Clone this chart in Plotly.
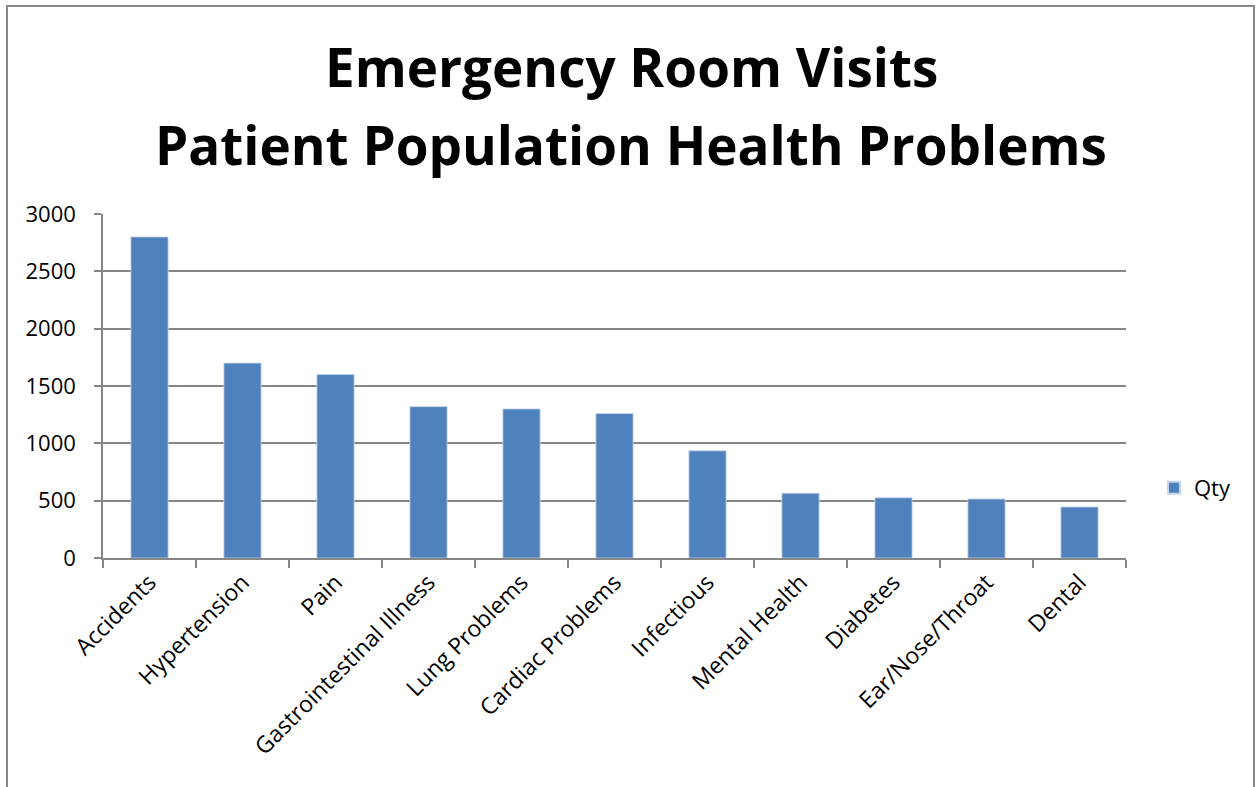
import plotly.graph_objects as go

# Emergency room visits by health problem
categories = [
    "Accidents", "Hypertension", "Pain", "Gastrointestinal Illness",
    "Lung Problems", "Cardiac Problems", "Infectious", "Mental Health",
    "Diabetes", "Ear/Nose/Throat", "Dental",
]
qty = [2800, 1700, 1600, 1320, 1300, 1260, 935, 565, 525, 515, 445]
y_ticks = [0, 500, 1000, 1500, 2000, 2500, 3000]

W, H = 1256, 787
L, R, T, B = 103, 130, 214, 229
PW, PH = W - L - R, H - T - B


def px_x(x):
    return (x - L) / PW


def px_y(y):
    return (H - B - y) / PH


FONT = "Open Sans"
GRID = "#868686"

fig = go.Figure()
fig.add_trace(go.Bar(
    x=categories, y=qty, name="Qty",
    marker=dict(color="#4F81BD", line=dict(color="#C6D6EA", width=0.8)),
))

fig.update_layout(
    width=W, height=H,
    margin=dict(l=L, r=R, t=T, b=B, pad=0),
    paper_bgcolor="white", plot_bgcolor="white",
    bargap=0.6,
    showlegend=True,
    legend=dict(x=px_x(1154), y=px_y(488), xanchor="left", yanchor="middle",
                font=dict(family=FONT, size=22, color="black"),
                itemsizing="constant", bgcolor="rgba(0,0,0,0)"),
    font=dict(family=FONT, color="black"),
)

fig.update_xaxes(
    type="category", tickangle=-45, tickson="boundaries",
    ticks="outside", ticklen=8, tickcolor=GRID, tickwidth=1.5,
    showline=True, linecolor=GRID, linewidth=1.5,
    showgrid=False, tickfont=dict(family=FONT, size=23, color="black"),
)
fig.update_yaxes(
    range=[0, 3000], tickvals=y_ticks, ticktext=[str(v) for v in y_ticks],
    ticks="outside", ticklen=7, tickcolor=GRID, tickwidth=1.5,
    showline=True, linecolor=GRID, linewidth=1.5,
    showgrid=True, gridcolor=GRID, gridwidth=1.5, zeroline=False,
    tickfont=dict(family=FONT, size=22, color="black"),
    ticklabelstandoff=14,
)

# Two-line chart title
for text, yc in [("Emergency Room Visits", 67), ("Patient Population Health Problems", 144)]:
    fig.add_annotation(
        text=f"<b>{text}</b>", xref="paper", yref="paper",
        x=px_x(631), y=px_y(yc), xanchor="center", yanchor="middle",
        showarrow=False, font=dict(family=FONT, size=53, color="black"),
    )

# Chart area border
fig.add_shape(
    type="rect", xref="paper", yref="paper",
    x0=px_x(7), x1=px_x(1254), y0=px_y(800), y1=px_y(6),
    line=dict(color="#878787", width=2), fillcolor="rgba(0,0,0,0)", layer="below",
)

fig.write_html("out.html")
